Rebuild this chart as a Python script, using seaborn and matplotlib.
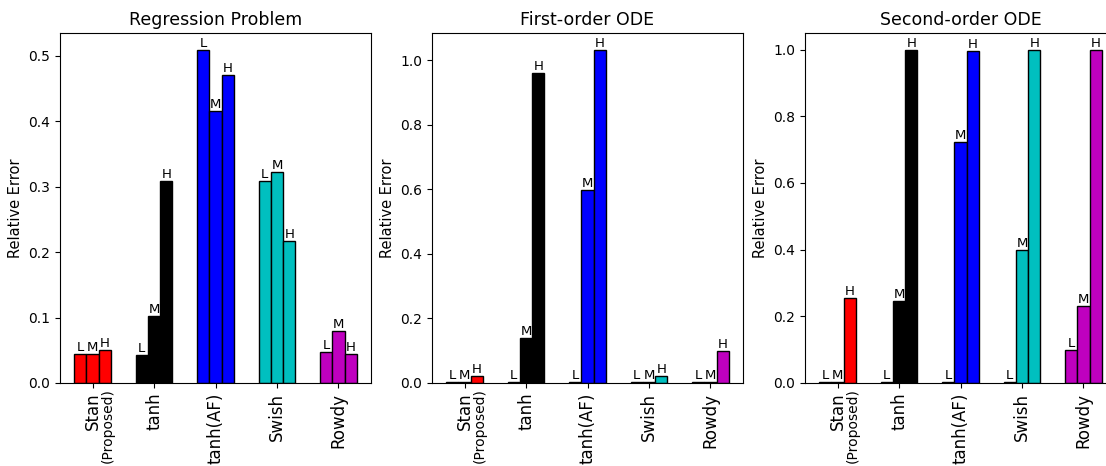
import pandas as pd
import matplotlib
matplotlib.use("Agg")
import matplotlib.pyplot as plt
import seaborn as sns

# --- data ---
methods = ["Stan", "tanh", "tanh(AF)", "Swish", "Rowdy"]
levels = ["L", "M", "H"]
method_colors = ["r", "k", "b", "c", "m"]

titles = ["Regression Problem", "First-order ODE", "Second-order ODE"]

regression_err = [
    [0.044, 0.045, 0.051],
    [0.043, 0.102, 0.309],
    [0.509, 0.415, 0.471],
    [0.309, 0.322, 0.217],
    [0.048, 0.079, 0.044],
]
first_order_err = [
    [0.002, 0.002, 0.022],
    [0.002, 0.138, 0.960],
    [0.002, 0.598, 1.032],
    [0.002, 0.002, 0.022],
    [0.002, 0.004, 0.098],
]
second_order_err = [
    [0.002, 0.002, 0.256],
    [0.002, 0.245, 1.000],
    [0.002, 0.722, 0.997],
    [0.002, 0.400, 1.000],
    [0.100, 0.231, 1.000],
]
all_err = [regression_err, first_order_err, second_order_err]


def to_long(err):
    rows = []
    for m, vals in zip(methods, err):
        for lv, v in zip(levels, vals):
            rows.append({"method": m, "level": lv, "error": v})
    return pd.DataFrame(rows)


fig = plt.figure(figsize=(11.06, 4.66), dpi=100)
lefts = [60 / 1106, 432 / 1106, 805 / 1106]
bottom, width, height = 83 / 466, 311 / 1106, 350 / 466

for i in range(3):
    ax = fig.add_axes([lefts[i], bottom, width, height])
    df = to_long(all_err[i])
    sns.barplot(data=df, x="method", y="error", hue="level", hue_order=levels,
                order=methods, width=0.6, gap=0, edgecolor="k", linewidth=1,
                palette=["w", "w", "w"], legend=False, errorbar=None, ax=ax)

    # colour by method, letter above each bar
    for lv, cont in zip(levels, ax.containers):
        for j, bar in enumerate(cont):
            bar.set_facecolor(method_colors[j])
            bar.set_edgecolor("k")
            ax.text(bar.get_x() + bar.get_width() / 2, bar.get_height(), lv,
                    ha="center", va="bottom", fontsize=9.5)

    ax.set_xlim(-0.53, 4.53)
    ax.set_ylim(0, max(max(r) for r in all_err[i]) * 1.05)
    ax.set_title(titles[i], fontsize=12.5)
    ax.set_ylabel("Relative Error", fontsize=10.5)
    ax.set_xlabel("")
    ax.set_xticks(range(len(methods)))
    ax.set_xticklabels(methods, rotation=90, fontsize=12)
    ax.tick_params(axis="y", labelsize=10)
    ax.annotate("(Proposed)", xy=(0, 0), xycoords=("data", "axes fraction"),
                xytext=(11, -4), textcoords="offset points",
                rotation=90, ha="center", va="top", fontsize=10)

fig.savefig("out.png", dpi=100)
